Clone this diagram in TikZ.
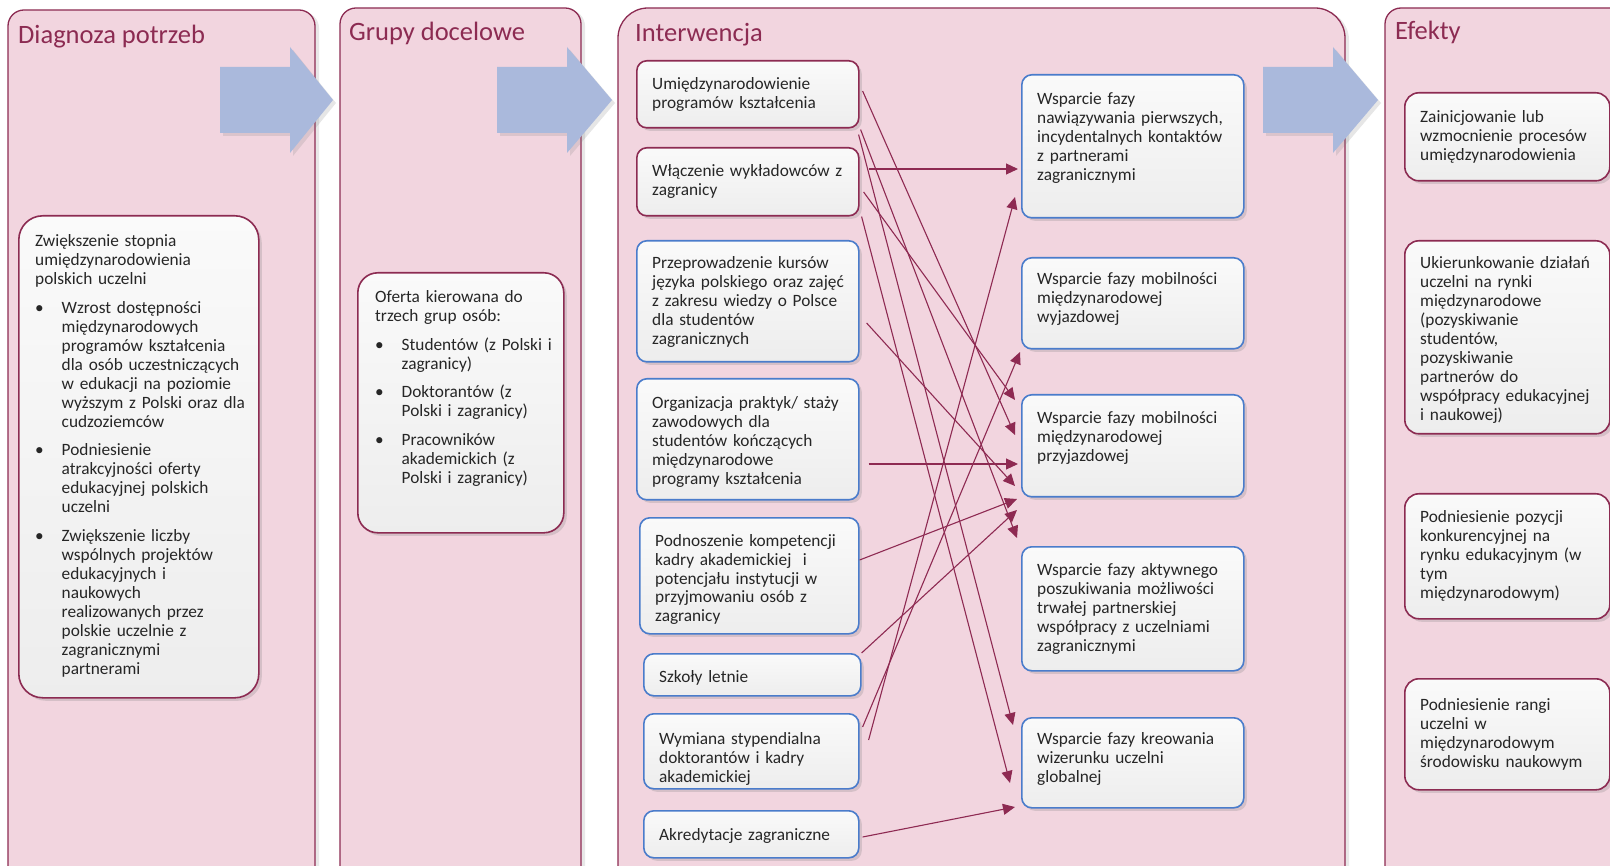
\documentclass[tikz,border=0pt]{standalone}
\usepackage{fontspec}
\setmainfont{Carlito}
\usetikzlibrary{arrows.meta,calc,shadows}
\definecolor{panelfill}{HTML}{F2D5DF}
\definecolor{maroonc}{HTML}{8C2B52}
\definecolor{boxblue}{HTML}{4A7CCB}
\definecolor{barrowc}{HTML}{AAB9DC}
\definecolor{txtc}{HTML}{262626}
\definecolor{headc}{HTML}{8C2B52}
\definecolor{lnc}{HTML}{8E2A52}
\newcommand\mybul[2][9.5pt]{\par\vspace{#1}{\leftskip=26.5pt\noindent\hspace*{-26.5pt}\makebox[26.5pt][l]{•}#2\par}}
\tikzset{
  panel/.style={fill=panelfill, draw=maroonc, line width=1.3pt,
    drop shadow={opacity=0.18, shadow xshift=4pt, shadow yshift=-2pt}},
  barrow/.style={fill=barrowc, drop shadow={opacity=0.2, shadow xshift=3pt, shadow yshift=-3pt}},
  boxbase/.style={rectangle, rounded corners=10pt, line width=1.6pt,
    top color=white!98!black, bottom color=white!93!black,
    anchor=north west, inner sep=0pt,
    drop shadow={opacity=0.25, shadow xshift=3pt, shadow yshift=-3pt}},
  mbox/.style={boxbase, draw=maroonc},
  bbox/.style={boxbase, draw=boxblue},
  txt/.style={anchor=base west, inner sep=0pt, text width=#1, align=left,
    font=\fontsize{17.3}{19}\selectfont, text=txtc},
  txt/.default=260pt,
  head/.style={anchor=base west, inner sep=0pt, font=\fontsize{26.5}{30}\selectfont, text=headc},
  conn/.style={draw=lnc, line width=1.1pt, -{Triangle[length=12pt,width=11pt]}},
}
\begin{document}
\begin{tikzpicture}[x=1pt,y=-1pt]
\useasboundingbox (0,0) rectangle (1610,866);
\clip (0,0) rectangle (1610,866);
% panels
\filldraw[panel, rounded corners=16pt] (8,900) -- (8,10) -- (315,10) -- (315,900) -- cycle;
\filldraw[panel, rounded corners=16pt] (340,900) -- (340,8) -- (581,8) -- (581,900) -- cycle;
\filldraw[panel, rounded corners=30pt] (618,900) -- (618,8) -- (1345,8) -- (1345,900) -- cycle;
\filldraw[panel, rounded corners=16pt] (1385,900) -- (1385,8) -- (1650,8) -- (1650,900) -- cycle;
% block arrows
\fill[barrow] (220,67) -- (290,67) -- (290,47) -- (333,100) -- (290,153) -- (290,133) -- (220,133) -- cycle;
\fill[barrow] (497,67) -- (567,67) -- (567,47) -- (612,100) -- (567,153) -- (567,133) -- (497,133) -- cycle;
\fill[barrow] (1263,67) -- (1333,67) -- (1333,47) -- (1378,100) -- (1333,153) -- (1333,133) -- (1263,133) -- cycle;
% headings
\node[head] (h1) at (18,43.5) {Diagnoza potrzeb};
\node[head] (h2) at (349,40.5) {Grupy docelowe};
\node[head] (h3) at (635,41.5) {Interwencja};
\node[head] (h4) at (1395,39.5) {Efekty};
% big boxes
\node[mbox, rounded corners=24pt, minimum width=240pt, minimum height=482pt] (dg) at (18,215) {};
\node[mbox, rounded corners=20pt, minimum width=206pt, minimum height=260pt] (gr) at (357,272) {};
% intervention boxes
\node[mbox, minimum width=222pt, minimum height=67pt] (u1) at (636,60) {};
\node[mbox, minimum width=222pt, minimum height=68pt] (u2) at (636,147) {};
\node[bbox, minimum width=222pt, minimum height=121pt] (u3) at (636,240) {};
\node[bbox, minimum width=222pt, minimum height=121pt] (u4) at (636,378) {};
\node[bbox, minimum width=219pt, minimum height=116pt] (u5) at (639,517) {};
\node[bbox, minimum width=217pt, minimum height=42pt] (u6) at (643,653) {};
\node[bbox, minimum width=215pt, minimum height=75pt] (u7) at (643,713) {};
\node[bbox, minimum width=215pt, minimum height=47pt] (u8) at (643,810) {};
% support boxes
\node[bbox, minimum width=222pt, minimum height=143pt] (A) at (1021,74) {};
\node[bbox, minimum width=222pt, minimum height=91pt] (B) at (1021,257) {};
\node[bbox, minimum width=222pt, minimum height=102pt] (C) at (1021,394) {};
\node[bbox, minimum width=222pt, minimum height=124pt] (D) at (1021,546) {};
\node[bbox, minimum width=222pt, minimum height=90pt] (E) at (1021,717) {};
% effect boxes
\node[mbox, rounded corners=14pt, minimum width=205pt, minimum height=88pt] (F1) at (1404,92) {};
\node[mbox, rounded corners=14pt, minimum width=205pt, minimum height=193pt] (F2) at (1404,240) {};
\node[mbox, rounded corners=14pt, minimum width=205pt, minimum height=125pt] (F3) at (1404,493) {};
\node[mbox, rounded corners=14pt, minimum width=205pt, minimum height=111pt] (F4) at (1404,678) {};
% connectors
\draw[conn] ($(u1.north east)+(3,31)$) -- ($(C.north west)+(-6,41)$);
\draw[conn] ($(u1.south east)+(1,1)$) -- ($(D.north west)+(-4,-8)$);
\draw[conn] ($(u1.south east)+(-1,6)$) -- ($(E.north west)+(-8,8)$);
\draw[conn] ($(u2.north east)+(9,22)$) -- ($(A.north west)+(-3,95)$);
\draw[conn] ($(u2.north east)+(4,45)$) -- ($(C.north west)+(-6,6)$);
\draw[conn] ($(u2.south east)+(2,0)$) -- ($(E.north west)+(-11,66)$);
\draw[conn] ($(u3.north east)+(7,83)$) -- ($(C.north west)+(-6,92)$);
\draw[conn] ($(u4.north east)+(9,86)$) -- ($(C.north west)+(-3,70)$);
\draw[conn] ($(u5.north east)+(0,43)$) -- ($(C.north west)+(-4,105)$);
\draw[conn] ($(u6.north east)+(0,0)$) -- ($(C.north west)+(-4,116)$);
\draw[conn] ($(u7.north east)+(3,14)$) -- ($(B.north west)+(-1,95)$);
\draw[conn] ($(u7.north east)+(9,27)$) -- ($(A.north west)+(-6,123)$);
\draw[conn] ($(u8.north east)+(3,27)$) -- ($(E.north west)+(-6,90)$);
% texts
\node[txt=230pt] (tdg) at (35,247) {Zwiększenie stopnia\\umiędzynarodowienia\\polskich uczelni
\mybul{Wzrost dostępności\\międzynarodowych\\programów kształcenia\\dla osób uczestniczących\\w edukacji na poziomie\\wyższym z Polski oraz dla\\cudzoziemców}
\mybul{Podniesienie\\atrakcyjności oferty\\edukacyjnej polskich\\uczelni}
\mybul{Zwiększenie liczby\\wspólnych projektów\\edukacyjnych i\\naukowych\\realizowanych przez\\polskie uczelnie z\\zagranicznymi\\partnerami}};
\node[txt=190pt] (tgr) at (375,303) {Oferta kierowana do\\trzech grup osób:
\mybul{Studentów (z Polski i\\zagranicy)}
\mybul{Doktorantów (z\\Polski i zagranicy)}
\mybul{Pracowników\\akademickich (z\\Polski i zagranicy)}};
\node[txt] (tu1) at (652,90) {Umiędzynarodowienie\\programów kształcenia};
\node[txt] (tu2) at (652,177) {Włączenie wykładowców z\\zagranicy};
\node[txt] (tu3) at (652,269) {Przeprowadzenie kursów\\języka polskiego oraz zajęć\\z zakresu wiedzy o Polsce\\dla studentów\\zagranicznych};
\node[txt] (tu4) at (652,408.5) {Organizacja praktyk/ staży\\zawodowych dla\\studentów kończących\\międzynarodowe\\programy kształcenia};
\node[txt] (tu5) at (655,546) {Podnoszenie kompetencji\\kadry akademickiej~ i\\potencjału instytucji w\\przyjmowaniu osób z\\zagranicy};
\node[txt] (tu6) at (659,682) {Szkoły letnie};
\node[txt] (tu7) at (659,744) {Wymiana stypendialna\\doktorantów i kadry\\akademickiej};
\node[txt] (tu8) at (659,840) {Akredytacje zagraniczne};
\node[txt] (tA) at (1037,105) {Wsparcie fazy\\nawiązywania pierwszych,\\incydentalnych kontaktów\\z partnerami\\zagranicznymi};
\node[txt] (tB) at (1037,285) {Wsparcie fazy mobilności\\międzynarodowej\\wyjazdowej};
\node[txt] (tC) at (1037,424) {Wsparcie fazy mobilności\\międzynarodowej\\przyjazdowej};
\node[txt] (tD) at (1037,575) {Wsparcie fazy aktywnego\\poszukiwania możliwości\\trwałej partnerskiej\\współpracy z uczelniami\\zagranicznymi};
\node[txt] (tE) at (1037,744) {Wsparcie fazy kreowania\\wizerunku uczelni\\globalnej};
\node[txt] (tF1) at (1420,123) {Zainicjowanie lub\\wzmocnienie procesów\\umiędzynarodowienia};
\node[txt] (tF2) at (1420,269) {Ukierunkowanie działań\\uczelni na rynki\\międzynarodowe\\(pozyskiwanie\\studentów,\\pozyskiwanie\\partnerów do\\współpracy edukacyjnej\\i naukowej)};
\node[txt] (tF3) at (1420,522.5) {Podniesienie pozycji\\konkurencyjnej na\\rynku edukacyjnym (w\\tym\\międzynarodowym)};
\node[txt] (tF4) at (1420,710) {Podniesienie rangi\\uczelni w\\międzynarodowym\\środowisku naukowym};
\end{tikzpicture}
\end{document}
